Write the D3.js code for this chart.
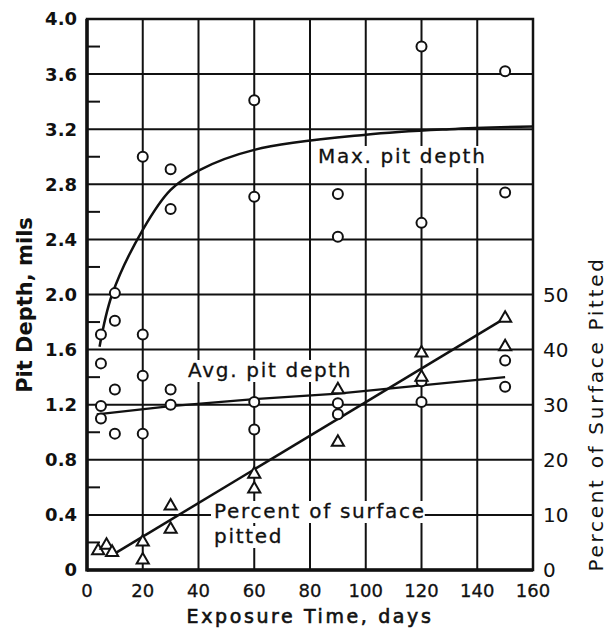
<!DOCTYPE html>
<html>
<head>
<meta charset="utf-8">
<script src="https://cdn.jsdelivr.net/npm/d3@7"></script>
<style>
  body { margin: 0; background: #fff; }
  text { font-family: "DejaVu Sans", sans-serif; fill: #111; }
</style>
</head>
<body>
<svg id="chart" width="607" height="628"></svg>
<script>
// exposure days vs. pit depth (mils) -- open circles
const maxDepthPts = [
  [5, 1.71], [10, 2.01], [10, 1.81], [20, 3.0], [20, 1.71], [30, 2.91], [30, 2.62],
  [60, 3.41], [60, 2.71], [90, 2.73], [90, 2.42], [120, 3.80], [120, 2.52], [150, 3.62], [150, 2.74]
];
const avgDepthPts = [
  [5, 1.50], [5, 1.19], [5, 1.10], [10, 1.31], [10, 0.99], [20, 1.41], [20, 0.99],
  [30, 1.31], [30, 1.20], [60, 1.22], [60, 1.02], [90, 1.21], [90, 1.13],
  [120, 1.37], [120, 1.22], [150, 1.52], [150, 1.33]
];
// percent of surface pitted -- triangles
const pctPts = [
  [4, 3.5], [7, 4.5], [9, 3.2], [20, 5.1], [20, 1.8], [30, 11.6], [30, 7.4],
  [60, 17.4], [60, 14.7], [90, 32.7], [90, 23.2], [120, 39.4], [120, 35.0], [150, 45.7], [150, 40.5]
];
// fitted curves
const maxCurve = [
  [4.5, 1.62], [9, 2.0], [20, 2.47], [30, 2.76], [40, 2.9], [60, 3.05],
  [100, 3.16], [130, 3.2], [160, 3.22]
];
const avgLine = [[3.5, 1.13], [30, 1.19], [60, 1.24], [90, 1.28], [120, 1.34], [150, 1.40]];
const pctLine = [[9, 2.7], [150, 45.7]];

const xTicks = [0, 20, 40, 60, 80, 100, 120, 140, 160];
const yTicks = [0, 0.4, 0.8, 1.2, 1.6, 2.0, 2.4, 2.8, 3.2, 3.6, 4.0];
const yMinor = [0.2, 0.6, 1.0, 1.4, 1.8, 2.2, 2.6, 3.0, 3.4, 3.8];
const pctTicks = [0, 10, 20, 30, 40, 50];

const svg = d3.select("#chart");
const x = d3.scaleLinear().domain([0, 160]).range([87, 533]);
const y = d3.scaleLinear().domain([0, 4]).range([570, 19]);
const yp = d3.scaleLinear().domain([0, 100]).range([570, 19]);

const grid = svg.append("g");
grid.selectAll(".hg").data(yTicks.slice(1, -1)).join("line")
  .attr("x1", x(0)).attr("x2", x(160))
  .attr("y1", d => y(d)).attr("y2", d => y(d))
  .attr("stroke", "#111").attr("stroke-width", 2);
grid.selectAll(".vg").data(xTicks.slice(1, -1)).join("line")
  .attr("x1", d => x(d)).attr("x2", d => x(d))
  .attr("y1", y(0)).attr("y2", y(4))
  .attr("stroke", "#111").attr("stroke-width", 2);
grid.selectAll(".mt").data(yMinor).join("line")
  .attr("x1", x(0)).attr("x2", x(0) + 13)
  .attr("y1", d => y(d)).attr("y2", d => y(d))
  .attr("stroke", "#111").attr("stroke-width", 2);

// labels sit on white patches that break the grid
const labels = [
  {t: "Max. pit depth", x: 318, y: 163},
  {t: "Avg. pit depth", x: 188, y: 377},
  {t: "Percent of surface", x: 214, y: 518},
  {t: "pitted", x: 214, y: 543}
];
const lab = svg.append("g");
const labText = lab.selectAll("text").data(labels).join("text")
  .attr("x", d => d.x).attr("y", d => d.y)
  .attr("font-size", 20).attr("letter-spacing", 1.7)
  .attr("stroke", "#111").attr("stroke-width", 0.3)
  .text(d => d.t);
labText.each(function() {
  const b = this.getBBox();
  lab.insert("rect", "text")
    .attr("x", b.x - 3).attr("y", b.y + 2)
    .attr("width", b.width + 2).attr("height", b.height - 2)
    .attr("fill", "#fff");
});

// frame
svg.append("rect")
  .attr("x", x(0)).attr("y", y(4))
  .attr("width", x(160) - x(0)).attr("height", y(0) - y(4))
  .attr("fill", "none").attr("stroke", "#111").attr("stroke-width", 2.5);
svg.append("line").attr("x1", x(0)).attr("x2", x(0)).attr("y1", y(4)).attr("y2", y(0) + 1.5)
  .attr("stroke", "#111").attr("stroke-width", 3.5);
svg.append("line").attr("x1", x(0)).attr("x2", x(160)).attr("y1", y(0)).attr("y2", y(0))
  .attr("stroke", "#111").attr("stroke-width", 3.5);

// fitted lines
svg.append("path").datum(maxCurve)
  .attr("d", d3.line().x(d => x(d[0])).y(d => y(d[1])).curve(d3.curveCatmullRom.alpha(0.5)))
  .attr("fill", "none").attr("stroke", "#111").attr("stroke-width", 2.5);
svg.append("path").datum(avgLine)
  .attr("d", d3.line().x(d => x(d[0])).y(d => y(d[1])))
  .attr("fill", "none").attr("stroke", "#111").attr("stroke-width", 2.2);
svg.append("path").datum(pctLine)
  .attr("d", d3.line().x(d => x(d[0])).y(d => yp(d[1])))
  .attr("fill", "none").attr("stroke", "#111").attr("stroke-width", 2.5);

// points
svg.append("g").selectAll("circle").data(maxDepthPts.concat(avgDepthPts)).join("circle")
  .attr("cx", d => x(d[0])).attr("cy", d => y(d[1])).attr("r", 5)
  .attr("fill", "#fff").attr("stroke", "#111").attr("stroke-width", 2);
const tri = d3.symbol().type(d3.symbolTriangle).size(64);
svg.append("g").selectAll("path").data(pctPts).join("path")
  .attr("transform", d => `translate(${x(d[0])},${yp(d[1])})`)
  .attr("d", tri)
  .attr("fill", "#fff").attr("stroke", "#111").attr("stroke-width", 2);

// tick labels
svg.append("g").selectAll("text").data(yTicks).join("text")
  .attr("x", 77).attr("y", d => y(d)).attr("dy", "0.36em")
  .attr("text-anchor", "end").attr("font-size", 18).attr("font-weight", "bold")
  .text(d => d === 0 ? "0" : d.toFixed(1));
svg.append("g").selectAll("text").data(xTicks).join("text")
  .attr("x", d => x(d)).attr("y", 597)
  .attr("text-anchor", "middle").attr("font-size", 18)
  .attr("stroke", "#111").attr("stroke-width", 0.3)
  .text(d => d);
svg.append("g").selectAll("text").data(pctTicks).join("text")
  .attr("x", 543).attr("y", d => yp(d)).attr("dy", "0.36em")
  .attr("font-size", 20)
  .text(d => d);

// axis titles
svg.append("text")
  .attr("transform", "translate(32,305) rotate(-90)")
  .attr("text-anchor", "middle").attr("font-size", 21).attr("font-weight", "bold")
  .text("Pit Depth, mils");
svg.append("text")
  .attr("transform", "translate(603,414) rotate(-90)")
  .attr("text-anchor", "middle").attr("font-size", 20).attr("letter-spacing", 2.7)
  .text("Percent of Surface Pitted");
svg.append("text")
  .attr("x", 310).attr("y", 623)
  .attr("text-anchor", "middle").attr("font-size", 19).attr("letter-spacing", 2.6)
  .attr("stroke", "#111").attr("stroke-width", 0.6)
  .text("Exposure Time, days");
</script>
</body>
</html>
